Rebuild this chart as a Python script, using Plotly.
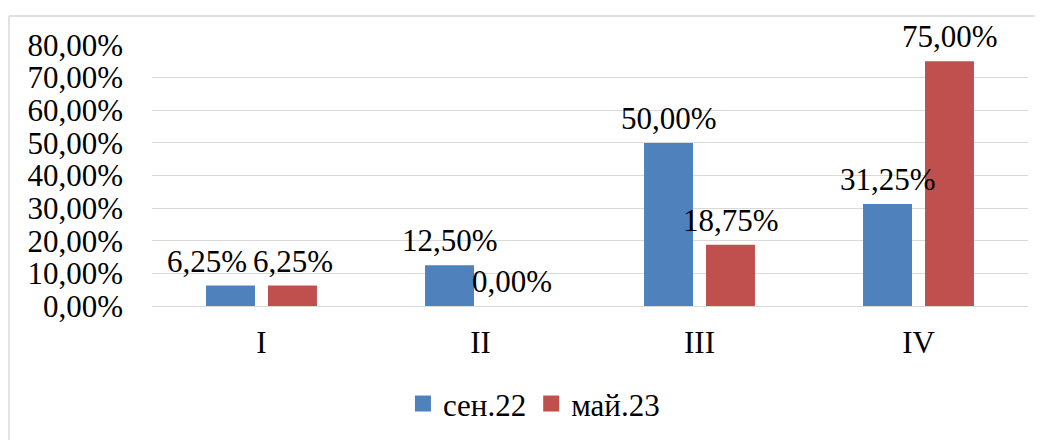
import plotly.graph_objects as go

categories = ["I", "II", "III", "IV"]
series_names = ["сен.22", "май.23"]
sep22 = [0.0625, 0.125, 0.50, 0.3125]
may23 = [0.0625, 0.0, 0.1875, 0.75]
colors = ["#4f81bd", "#c0504d"]

FONT = "'Liberation Serif', 'Times New Roman', serif"
FS = 31

def pct(v):
    return f"{v*100:.2f}%".replace(".", ",")

fig = go.Figure()
for name, vals, col in zip(series_names, [sep22, may23], colors):
    fig.add_trace(go.Bar(
        x=categories, y=vals, name=name, showlegend=False,
        marker=dict(color=col, line=dict(width=0)),
    ))
# legend entries with larger square swatches
for name, col in zip(series_names, colors):
    fig.add_trace(go.Scatter(
        x=[None], y=[None], name=name, mode="markers",
        marker=dict(symbol="square", size=17, color=col, line=dict(width=0)),
    ))

# data labels (Excel "outside end"), slot offset in px; first label of group I nudged left like Excel did
slot_shift = [-31, 31]
extra_shift = {(0, 0): -24}
annotations = []
for s, vals in enumerate([sep22, may23]):
    for i, (c, v) in enumerate(zip(categories, vals)):
        annotations.append(dict(
            x=c, y=v, xref="x", yref="y", text=pct(v), showarrow=False,
            xanchor="center", yanchor="bottom",
            xshift=slot_shift[s] + extra_shift.get((s, i), 0), yshift=5,
            font=dict(family=FONT, size=FS, color="black"),
        ))

tickvals = [i / 10 for i in range(9)]
fig.update_layout(
    width=1043, height=440,
    margin=dict(l=144, r=23, t=37, b=142),
    paper_bgcolor="white", plot_bgcolor="white",
    barmode="group", bargap=0.434, bargroupgap=0.21,
    font=dict(family=FONT, size=FS, color="black"),
    showlegend=True,
    legend=dict(orientation="h", x=0.436, xanchor="center", y=-0.375, yanchor="middle",
                font=dict(family=FONT, size=FS, color="black"),
                itemsizing="trace", tracegroupgap=0),
    yaxis=dict(range=[0, 0.8], tickvals=tickvals, ticktext=[pct(v) for v in tickvals],
               showgrid=True, gridcolor="#d9d9d9", gridwidth=1.3, zeroline=False,
               showline=False, ticks="", ticklabelstandoff=28,
               tickfont=dict(family=FONT, size=FS, color="black")),
    xaxis=dict(showline=True, linecolor="#d9d9d9", linewidth=1.3, ticks="",
               ticklabelstandoff=9,
               tickfont=dict(family=FONT, size=FS, color="black")),
    annotations=annotations,
    shapes=[
        dict(type="line", xref="paper", yref="paper", x0=-0.1632, x1=1.05, y0=1.111, y1=1.111,
             line=dict(color="#d9d9d9", width=1.5)),
        dict(type="line", xref="paper", yref="paper", x0=-0.1632, x1=-0.1632, y0=1.111, y1=-0.6,
             line=dict(color="#d9d9d9", width=1.5)),
    ],
)

fig.write_html("out.html")
